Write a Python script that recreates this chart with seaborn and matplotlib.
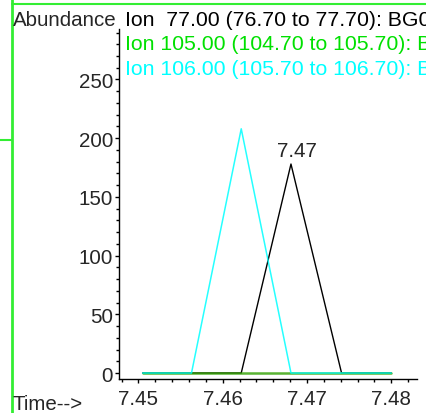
import numpy as np
import pandas as pd
import seaborn as sns
from matplotlib import pyplot as plt
from matplotlib.lines import Line2D
from matplotlib.ticker import MultipleLocator, FormatStrFormatter

# scan times (min) and extracted ion abundances
scan_time = [7.4505, 7.4563, 7.4622, 7.4681, 7.4741, 7.4800]
ion_77 = [0, 0, 0, 178, 0, 0]
ion_105 = [0, 0, 0, 0, 0, 0]
ion_106 = [0, 0, 208, 0, 0, 0]

ion_labels = ['Ion  77.00 (76.70 to 77.70): BG01.D',
              'Ion 105.00 (104.70 to 105.70): BG01.D',
              'Ion 106.00 (105.70 to 106.70): BG01.D']
ion_colors = ['black', '#00e000', '#00ffff']

FS = 14.8

sns.set_style('ticks')
plt.rcParams['font.family'] = ['Liberation Sans', 'DejaVu Sans']

fig = plt.figure(figsize=(4.26, 4.14), dpi=100)
ax = fig.add_axes([119 / 426, 34 / 414, 298 / 426, 350 / 414])

df = pd.DataFrame({'time': scan_time, 'ion77': ion_77, 'ion105': ion_105, 'ion106': ion_106})
sns.lineplot(data=df, x='time', y='ion77', color='black', lw=1.0, ax=ax)
sns.lineplot(data=df, x='time', y='ion105', color='#30a000', lw=1.8, alpha=0.8, ax=ax)
sns.lineplot(data=df, x='time', y='ion106', color='#00ffff', lw=1.1, alpha=0.85, ax=ax)

# label the apex of the main peak
i_max = int(np.argmax(ion_77))
ax.annotate(f'{scan_time[i_max]:.2f}', xy=(scan_time[i_max], ion_77[i_max]),
            xytext=(4, 3), textcoords='offset points', ha='center', va='bottom', fontsize=FS)

ax.set_xlim(7.4477, 7.48305)
ax.set_ylim(-5.1, 293)
ax.xaxis.set_major_locator(MultipleLocator(0.01))
ax.xaxis.set_minor_locator(MultipleLocator(0.002))
ax.xaxis.set_major_formatter(FormatStrFormatter('%.2f'))
ax.yaxis.set_major_locator(MultipleLocator(50))
ax.yaxis.set_minor_locator(MultipleLocator(10))
ax.tick_params(which='major', length=3, width=1, labelsize=FS, color='black')
ax.tick_params(which='minor', length=2, width=1, color='black')
ax.tick_params(axis='x', which='major', pad=4.5)
ax.tick_params(axis='y', which='major', pad=1.2)
ax.set_xlabel('')
ax.set_ylabel('')
for side in ['top', 'right']:
    ax.spines[side].set_visible(False)
for side in ['left', 'bottom']:
    ax.spines[side].set_color('black')
    ax.spines[side].set_linewidth(1)

fig.text(12.5 / 426, 1 - 25.5 / 414, 'Abundance', fontsize=FS, va='baseline')
fig.text(12.5 / 426, 1 - 410 / 414, 'Time-->', fontsize=FS, va='baseline')
for k, (lab, col) in enumerate(zip(ion_labels, ion_colors)):
    fig.text(125 / 426, 1 - (26 + 24.3 * k) / 414, lab, color=col, fontsize=15.3, va='baseline')

# window frame
border = '#33ee33'
fig.add_artist(Line2D([11.5 / 426, 11.5 / 426], [0, 1], color=border, lw=2))
fig.add_artist(Line2D([11.5 / 426, 1], [1 - 4.5 / 414, 1 - 4.5 / 414], color=border, lw=1.5))
fig.add_artist(Line2D([0, 11 / 426], [1 - 140.5 / 414, 1 - 140.5 / 414], color=border, lw=1.5))

fig.savefig('out.png', dpi=100)
